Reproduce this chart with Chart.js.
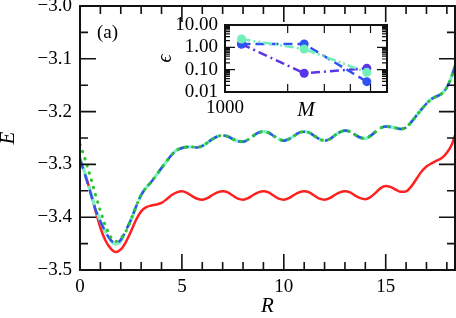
<!DOCTYPE html>
<html><head><meta charset="utf-8">
<script src="https://cdn.jsdelivr.net/npm/chart.js@4.4.0/dist/chart.umd.min.js"></script>
<style>
html,body{margin:0;padding:0;background:#fff;}
#wrap{position:relative;width:456px;height:318px;background:#fff;}
#main{position:absolute;left:0;top:0;}
#inset{position:absolute;left:150px;top:10px;}
</style>
</head><body>
<div id="wrap"><canvas id="main" width="456" height="318"></canvas><canvas id="inset" width="245" height="111"></canvas></div>
<script>
// ---- main panel data ----
const R = [0,0.25,0.5,0.75,1,1.25,1.5,1.75,2,2.25,2.5,2.75,3,3.25,3.5,3.75,4,4.25,4.5,4.75,5,5.25,5.5,5.75,6,6.25,6.5,6.75,7,7.25,7.5,7.75,8,8.25,8.5,8.75,9,9.25,9.5,9.75,10,10.25,10.5,10.75,11,11.25,11.5,11.75,12,12.25,12.5,12.75,13,13.25,13.5,13.75,14,14.25,14.5,14.75,15,15.25,15.5,15.75,16,16.25,16.5,16.75,17,17.25,17.5,17.75,18,18.25,18.4];
const E_red = [-3.290,-3.318,-3.350,-3.386,-3.420,-3.444,-3.459,-3.466,-3.461,-3.447,-3.427,-3.405,-3.389,-3.381,-3.378,-3.376,-3.373,-3.366,-3.358,-3.353,-3.351,-3.354,-3.360,-3.365,-3.367,-3.364,-3.358,-3.353,-3.351,-3.353,-3.359,-3.365,-3.367,-3.364,-3.358,-3.353,-3.351,-3.353,-3.359,-3.365,-3.367,-3.364,-3.358,-3.353,-3.351,-3.353,-3.359,-3.365,-3.367,-3.364,-3.358,-3.353,-3.351,-3.353,-3.359,-3.364,-3.366,-3.362,-3.354,-3.345,-3.341,-3.343,-3.348,-3.352,-3.351,-3.342,-3.328,-3.314,-3.304,-3.298,-3.293,-3.288,-3.278,-3.262,-3.245];
const E_blue = [-3.290,-3.320,-3.352,-3.384,-3.408,-3.428,-3.443,-3.449,-3.443,-3.425,-3.405,-3.380,-3.358,-3.344,-3.333,-3.320,-3.307,-3.294,-3.282,-3.273,-3.269,-3.267,-3.267,-3.268,-3.265,-3.259,-3.252,-3.247,-3.245,-3.247,-3.252,-3.256,-3.257,-3.253,-3.246,-3.240,-3.238,-3.240,-3.246,-3.252,-3.255,-3.252,-3.246,-3.240,-3.238,-3.240,-3.246,-3.252,-3.255,-3.252,-3.245,-3.239,-3.236,-3.238,-3.244,-3.249,-3.251,-3.246,-3.238,-3.231,-3.228,-3.229,-3.231,-3.233,-3.230,-3.220,-3.208,-3.196,-3.185,-3.176,-3.171,-3.166,-3.154,-3.132,-3.113];
const E_aqua = [-3.288,-3.318,-3.350,-3.382,-3.407,-3.428,-3.444,-3.451,-3.445,-3.426,-3.405,-3.380,-3.358,-3.344,-3.333,-3.320,-3.307,-3.294,-3.282,-3.273,-3.269,-3.267,-3.267,-3.268,-3.265,-3.259,-3.252,-3.247,-3.245,-3.247,-3.252,-3.256,-3.257,-3.253,-3.246,-3.240,-3.238,-3.240,-3.246,-3.252,-3.255,-3.252,-3.246,-3.240,-3.238,-3.240,-3.246,-3.252,-3.255,-3.252,-3.245,-3.239,-3.236,-3.238,-3.244,-3.249,-3.251,-3.246,-3.238,-3.231,-3.228,-3.229,-3.231,-3.233,-3.230,-3.220,-3.208,-3.196,-3.185,-3.176,-3.171,-3.166,-3.154,-3.132,-3.113];
const E_green = [-3.262,-3.290,-3.322,-3.356,-3.388,-3.416,-3.437,-3.446,-3.440,-3.427,-3.405,-3.380,-3.358,-3.344,-3.333,-3.320,-3.307,-3.294,-3.282,-3.273,-3.269,-3.267,-3.267,-3.268,-3.265,-3.259,-3.252,-3.247,-3.245,-3.247,-3.252,-3.256,-3.257,-3.253,-3.246,-3.240,-3.238,-3.240,-3.246,-3.252,-3.255,-3.252,-3.246,-3.240,-3.238,-3.240,-3.246,-3.252,-3.255,-3.252,-3.245,-3.239,-3.236,-3.238,-3.244,-3.249,-3.251,-3.246,-3.238,-3.231,-3.228,-3.229,-3.231,-3.233,-3.230,-3.220,-3.208,-3.196,-3.185,-3.176,-3.171,-3.166,-3.154,-3.132,-3.113];
const xTickLabels = [0, 5, 10, 15];
const yTickLabels = [-3.5, -3.4, -3.3, -3.2, -3.1, -3.0];

// ---- inset data ----
const M = [1200, 2400, 4800];
const eps_blue = [1.41, 1.41, 0.029];
const eps_indigo = [1.41, 0.069, 0.115];
const eps_aqua = [2.36, 0.84, 0.076];
const insetXTickLabels = [1000];
const insetYTickLabels = [0.01, 0.1, 1, 10];

Chart.defaults.font.family = "'Liberation Serif', 'DejaVu Serif', serif";
Chart.defaults.color = '#000';
Chart.defaults.animation = false;

const frameTicks = {
  id: 'frameTicks',
  afterDatasetsDraw(chart, args, o) {
    const {ctx, chartArea: a} = chart;
    const sx = chart.scales.x, sy = chart.scales.y;
    ctx.save();
    ctx.strokeStyle = '#111';
    ctx.lineWidth = o.tickWidth;
    ctx.beginPath();
    for (const [v, len] of o.xMarks) {
      const p = sx.getPixelForValue(v);
      ctx.moveTo(p, a.bottom); ctx.lineTo(p, a.bottom - len);
      ctx.moveTo(p, a.top); ctx.lineTo(p, a.top + len);
    }
    for (const [v, len] of o.yMarks) {
      const p = sy.getPixelForValue(v);
      ctx.moveTo(a.left, p); ctx.lineTo(a.left + len, p);
      ctx.moveTo(a.right, p); ctx.lineTo(a.right - len, p);
    }
    ctx.stroke();
    ctx.lineWidth = o.frameWidth;
    ctx.strokeRect(a.left, a.top, a.right - a.left, a.bottom - a.top);
    if (o.label) {
      ctx.fillStyle = '#000';
      ctx.font = "19px 'Liberation Serif', serif";
      ctx.textAlign = 'left'; ctx.textBaseline = 'middle';
      ctx.fillText(o.label, a.left + o.labelDx, a.top + o.labelDy);
    }
    ctx.restore();
  }
};

function pts(xs, ys) { return xs.map((x, i) => ({x, y: ys[i]})); }
function fixY(w) { return s => { s.width = w; s.paddingTop = 0; s.paddingBottom = 0; }; }
function fixX(h) { return s => { s.height = h; s.paddingLeft = 0; s.paddingRight = 0; }; }

// main tick marks
const mainXMarks = [];
for (let i = 0; i <= 18; i++) mainXMarks.push([i, i % 5 === 0 ? 16 : 8]);
const mainYMarks = [];
for (let k = 0; k <= 10; k++) mainYMarks.push([Math.round((-3.5 + 0.05 * k) * 1000) / 1000, k % 2 === 0 ? 16 : 8]);

const lineBase = {pointRadius: 0, fill: false, cubicInterpolationMode: 'monotone'};

new Chart(document.getElementById('main'), {
  type: 'line',
  data: {
    datasets: [
      Object.assign({label: 'green', data: pts(R, E_green), borderColor: '#2ec42e', borderWidth: 3, borderDash: [0.5, 7], borderCapStyle: 'round'}, lineBase),
      Object.assign({label: 'blue', data: pts(R, E_blue), borderColor: '#3450ee', borderWidth: 2.5, borderDash: [10, 6]}, lineBase),
      Object.assign({label: 'aqua', data: pts(R, E_aqua), borderColor: '#7cf2c6', borderWidth: 3.2, borderDash: [22, 7]}, lineBase),
      Object.assign({label: 'red', data: pts(R, E_red), borderColor: '#ff2020', borderWidth: 2.5}, lineBase)
    ]
  },
  options: {
    responsive: false,
    animation: false,
    layout: {padding: {top: 6, right: 1, left: 0, bottom: 0}},
    plugins: {
      legend: {display: false}, tooltip: {enabled: false},
      frameTicks: {xMarks: mainXMarks, yMarks: mainYMarks, tickWidth: 1.6, frameWidth: 2, label: '(a)', labelDx: 17, labelDy: 27}
    },
    scales: {
      x: {
        type: 'linear', min: 0, max: 18.4,
        grid: {display: false, drawTicks: false}, border: {display: false},
        afterBuildTicks: s => { s.ticks = xTickLabels.map(v => ({value: v})); },
        afterFit: fixX(48),
        ticks: {font: {size: 19}, padding: 6, maxRotation: 0, autoSkip: false, includeBounds: false, callback: v => String(v)},
        title: {display: true, text: 'R', font: {size: 21, style: 'italic', lineHeight: 1.1}, padding: 0}
      },
      y: {
        type: 'linear', min: -3.5, max: -3.0,
        grid: {display: false, drawTicks: false}, border: {display: false},
        afterBuildTicks: s => { s.ticks = yTickLabels.map(v => ({value: v})); },
        afterFit: fixY(80),
        ticks: {font: {size: 19}, padding: 8, autoSkip: false, callback: v => (v < 0 ? '\u2212' : '') + Math.abs(v).toFixed(1)},
        title: {display: true, text: 'E', font: {size: 21, style: 'italic', lineHeight: 0.85}, padding: 0}
      }
    }
  },
  plugins: [frameTicks]
});

// inset tick marks
const insetXMarks = [[2000, 8], [3000, 8], [4000, 8], [5000, 8]];
const insetYMarks = [];
[0.01, 0.1, 1].forEach(d => { for (let m = 1; m <= 9; m++) insetYMarks.push([d * m, m === 1 ? 10 : 5]); });
insetYMarks.push([10, 10]);

const insetBase = {pointRadius: 4.5, pointHoverRadius: 4.5, pointBorderWidth: 0, borderWidth: 2.5, fill: false, tension: 0};

new Chart(document.getElementById('inset'), {
  type: 'line',
  data: {
    datasets: [
      Object.assign({label: 'aqua', data: pts(M, eps_aqua), borderColor: '#70f0b6', backgroundColor: '#70f0b6', pointBackgroundColor: '#70f0b6', borderDash: [9, 3, 2, 3, 2, 3]}, insetBase),
      Object.assign({label: 'blue', data: pts(M, eps_blue), borderColor: '#2f52f2', backgroundColor: '#2f52f2', pointBackgroundColor: '#2f52f2', borderDash: [9, 5]}, insetBase),
      Object.assign({label: 'indigo', data: pts(M, eps_indigo), borderColor: '#5a34e6', backgroundColor: '#5a34e6', pointBackgroundColor: '#5a34e6', borderDash: [9, 4, 2, 4]}, insetBase)
    ]
  },
  options: {
    responsive: false,
    animation: false,
    layout: {padding: {top: 15, right: 8, left: 0, bottom: 0}},
    plugins: {
      legend: {display: false}, tooltip: {enabled: false},
      frameTicks: {xMarks: insetXMarks, yMarks: insetYMarks, tickWidth: 1.2, frameWidth: 2}
    },
    scales: {
      x: {
        type: 'logarithmic', min: 1000, max: 6000,
        grid: {display: false, drawTicks: false}, border: {display: false},
        afterBuildTicks: s => { s.ticks = insetXTickLabels.map(v => ({value: v})); },
        afterFit: fixX(29),
        ticks: {font: {size: 19}, padding: 5, maxRotation: 0, autoSkip: false, callback: v => String(v)},
        title: {display: true, text: 'M', font: {size: 21, style: 'italic', lineHeight: 1}, padding: 0}
      },
      y: {
        type: 'logarithmic', min: 0.01, max: 10,
        grid: {display: false, drawTicks: false}, border: {display: false},
        afterBuildTicks: s => { s.ticks = insetYTickLabels.map(v => ({value: v})); },
        afterFit: fixY(75),
        ticks: {font: {size: 19}, padding: 7, autoSkip: false, callback: v => Number(v).toFixed(2)},
        title: {display: true, text: '\u03F5', font: {size: 20, style: 'italic', lineHeight: 1}, padding: {top: 6, bottom: 0}}
      }
    }
  },
  plugins: [frameTicks]
});
</script>
</body></html>
